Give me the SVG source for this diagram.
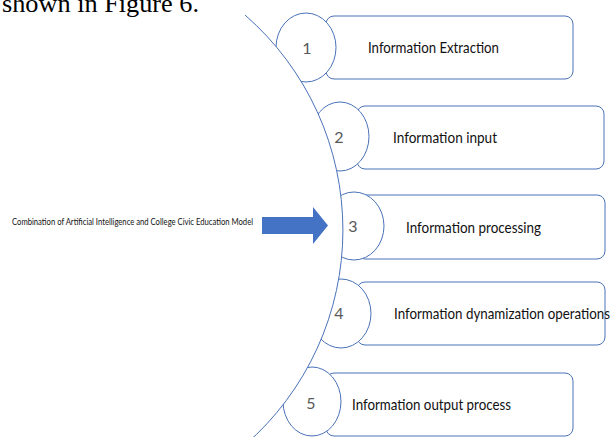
<svg xmlns="http://www.w3.org/2000/svg" width="613" height="437" viewBox="0 0 613 437">
  <style>
    .box{fill:#ffffff;stroke:#4a72b8;stroke-width:1}
    .circ{fill:#ffffff;stroke:#4a72b8;stroke-width:1}
    .num{font-family:Lato,"Open Sans","Liberation Sans",sans-serif;font-size:16px;fill:#595959;text-anchor:middle}
    .lbl{font-family:Lato,"Open Sans","Liberation Sans",sans-serif;font-size:16px;fill:#111111}
    .arc{fill:none;stroke:#4a72b8;stroke-width:1}
  </style>
  <rect x="0" y="0" width="613" height="437" fill="#ffffff"/>
  <line x1="245" y1="15" x2="245" y2="365" stroke="#f3f3f3" stroke-width="1"/>

  <g id="node1">
    <rect class="box" x="326" y="16" width="247" height="63" rx="8"/>
    <ellipse class="circ" cx="306" cy="47.5" rx="30" ry="34.5"/>
  </g>
  <g id="node2">
    <rect class="box" x="357" y="106" width="247" height="63" rx="8"/>
    <ellipse class="circ" cx="340" cy="136.5" rx="29" ry="34.5"/>
  </g>
  <g id="node3">
    <rect class="box" x="357" y="195" width="248" height="64" rx="8"/>
    <ellipse class="circ" cx="354" cy="226" rx="30" ry="34"/>
  </g>
  <g id="node4">
    <rect class="box" x="357" y="282" width="248" height="63" rx="8"/>
    <ellipse class="circ" cx="341" cy="313.5" rx="30" ry="34.5"/>
  </g>
  <g id="node5">
    <rect class="box" x="326" y="373" width="247" height="63" rx="8"/>
    <ellipse class="circ" cx="312" cy="401.5" rx="29" ry="34.5"/>
  </g>

  <g id="connectors">
    <path d="M245,15 A285,285 0 0 1 245,445 L-10,445 L-10,15 Z" fill="#ffffff" stroke="none"/>
    <path class="arc" d="M245,15 A285,285 0 0 1 245,445"/>
    <polygon points="262,217 313,217 313,207 328,225.5 313,244 313,234 262,234" fill="#4472c4"/>
  </g>

  <g id="labels">
    <text class="num" x="307" y="54">1</text>
    <text class="lbl" x="368" y="53" textLength="131" lengthAdjust="spacingAndGlyphs">Information Extraction</text>
    <text class="num" x="339" y="143">2</text>
    <text class="lbl" x="393" y="143" textLength="104" lengthAdjust="spacingAndGlyphs">Information input</text>
    <text class="num" x="353" y="232">3</text>
    <text class="lbl" x="406" y="233" textLength="135" lengthAdjust="spacingAndGlyphs">Information processing</text>
    <text class="num" x="339" y="319">4</text>
    <text class="lbl" x="394" y="319" textLength="216" lengthAdjust="spacingAndGlyphs">Information dynamization operations</text>
    <text class="num" x="311" y="409">5</text>
    <text class="lbl" x="352" y="410" textLength="159" lengthAdjust="spacingAndGlyphs">Information output process</text>
  </g>

  <g id="source">
    <text x="12" y="225" font-family="Lato,'Open Sans','Liberation Sans',sans-serif" font-size="9.5" fill="#111111" textLength="241" lengthAdjust="spacingAndGlyphs">Combination of Artificial Intelligence and College Civic Education Model</text>
  </g>

  <text x="2" y="12" font-family="'Liberation Serif','Times New Roman',serif" font-size="26" fill="#000000" textLength="197" lengthAdjust="spacingAndGlyphs">shown in Figure 6.</text>
</svg>
